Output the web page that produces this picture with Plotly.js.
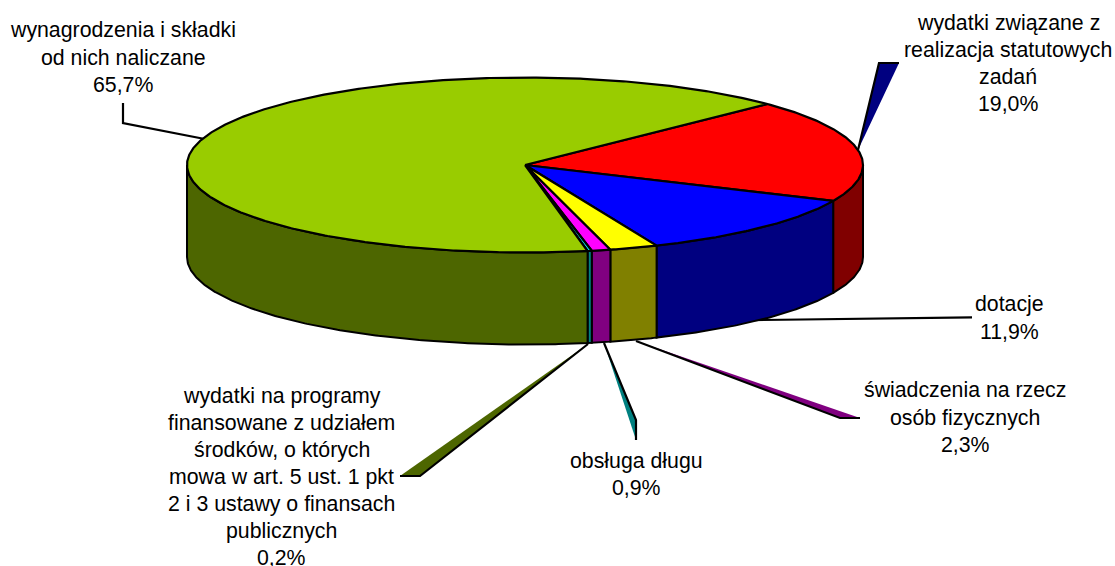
<!DOCTYPE html>
<html>
<head>
<meta charset="utf-8">
<script src="https://cdn.plot.ly/plotly-3.0.1.min.js"></script>
<style>html,body{margin:0;padding:0;background:#fff}#c{width:1115px;height:566px}</style>
</head>
<body>
<div id="c"></div>
<script>
// Data, in drawing order (clockwise)
const categories = ["wydatki związane z realizacja statutowych zadań", "dotacje", "świadczenia na rzecz osób fizycznych", "obsługa długu", "wydatki na programy finansowane z udziałem środków, o których mowa w art. 5 ust. 1 pkt 2 i 3 ustawy o finansach publicznych", "wynagrodzenia i składki od nich naliczane"];
const values = [19.0, 11.9, 2.3, 0.9, 0.2, 65.7];
const topColors = ["#FF0000", "#0000FF", "#FFFF00", "#FF00FF", "#00FFFF", "#99CC00"];
const sideColors = ["#800000", "#000080", "#808000", "#800080", "#008080", "#4D6600"];

// Label text
const labelLines = [
  ["wydatki związane z", "realizacja statutowych", "zadań", "19,0%"],
  ["dotacje", "11,9%"],
  ["świadczenia na rzecz", "osób fizycznych", "2,3%"],
  ["obsługa długu", "0,9%"],
  ["wydatki na programy", "finansowane z udziałem", "środków, o których", "mowa w art. 5 ust. 1 pkt", "2 i 3 ustawy o finansach", "publicznych", "0,2%"],
  ["wynagrodzenia i składki", "od nich naliczane", "65,7%"]
];

// Layout
const labelX = [1008, 1009, 965, 636, 281.5, 123];
const labelY = [
  [23, 50, 77, 104],
  [304, 332],
  [390, 418, 445],
  [461, 488],
  [396, 423, 450, 477, 504, 531, 558],
  [30, 58, 85]
];
const CX = 525, CY = 165, RX = 338, RY = 87.5, DEPTH = 92, START = 45.85;

const leaders = [
  {fill: "#000080", pts: [[858,150],[879,63],[899,63]]},
  {fill: null, pts: [[740,320.3],[972,317.3]]},
  {fill: "#800080", pts: [[636,341],[840,418],[860,418]]},
  {fill: "#008080", pts: [[604,343],[636,420],[636,440]]},
  {fill: "#4D6600", pts: [[588,344],[420,476],[400,476]]},
  {fill: null, pts: [[215,141],[123,123],[123,103]]}
];

const rad = d => d * Math.PI / 180;
const px = d => CX + RX * Math.sin(rad(d));
const py = (d, off) => CY - RY * Math.cos(rad(d)) + (off || 0);
function arc(a, b, off) {
  const n = Math.max(2, Math.ceil(Math.abs(b - a) * 2));
  const out = [];
  for (let i = 0; i <= n; i++) { const d = a + (b - a) * i / n; out.push([px(d), py(d, off)]); }
  return out;
}

const total = values.reduce((s, v) => s + v, 0);
let ang = START;
const spans = values.map(v => { const a = ang; ang += v / total * 360; return [a, ang]; });

const sides = [], tops = [];
spans.forEach(([a, b], i) => {
  // visible outer wall: the part of the slice on the front half of the ellipse
  const lo = Math.max(a, 90), hi = Math.min(b, 270);
  if (hi > lo) {
    const pts = arc(lo, hi, 0).concat(arc(hi, lo, DEPTH));
    pts.push(pts[0]);
    sides.push({type: "scatter", mode: "lines", x: pts.map(p => p[0]), y: pts.map(p => p[1]),
      fill: "toself", fillcolor: sideColors[i], line: {color: "#000", width: 2}, hoverinfo: "skip", name: categories[i]});
  }
  const t = [[CX, CY]].concat(arc(a, b, 0));
  t.push([CX, CY]);
  tops.push({type: "scatter", mode: "lines", x: t.map(p => p[0]), y: t.map(p => p[1]),
    fill: "toself", fillcolor: topColors[i], line: {color: "#000", width: 2.2}, hoverinfo: "text", text: categories[i], name: categories[i]});
});

const pathOf = (pts, close) => pts.map((p, i) => (i ? "L" : "M") + p[0] + "," + p[1]).join(" ") + (close ? " Z" : "");
const shapes = [];
leaders.forEach(l => {
  if (l.fill) shapes.push({type: "path", xref: "x", yref: "y", layer: "below", path: pathOf(l.pts, true), fillcolor: l.fill, line: {width: 0}});
  shapes.push({type: "path", xref: "x", yref: "y", layer: "below", path: pathOf(l.pts, false), line: {color: "#000", width: 2.2}});
});

const annotations = [];
labelLines.forEach((lines, i) => lines.forEach((text, j) => annotations.push({
  x: labelX[i], y: labelY[i][j], xref: "x", yref: "y", text, showarrow: false,
  xanchor: "center", yanchor: "middle", font: {family: "Liberation Sans, Arial, sans-serif", size: 21.3, color: "#000"}
})));

const layout = {
  width: 1115, height: 566, margin: {l: 0, r: 0, t: 0, b: 0}, showlegend: false,
  paper_bgcolor: "#fff", plot_bgcolor: "rgba(0,0,0,0)",
  xaxis: {range: [0, 1115], visible: false, fixedrange: true},
  yaxis: {range: [566, 0], visible: false, fixedrange: true},
  shapes, annotations
};
Plotly.newPlot("c", sides.concat(tops), layout, {displayModeBar: false});
</script>
</body>
</html>
